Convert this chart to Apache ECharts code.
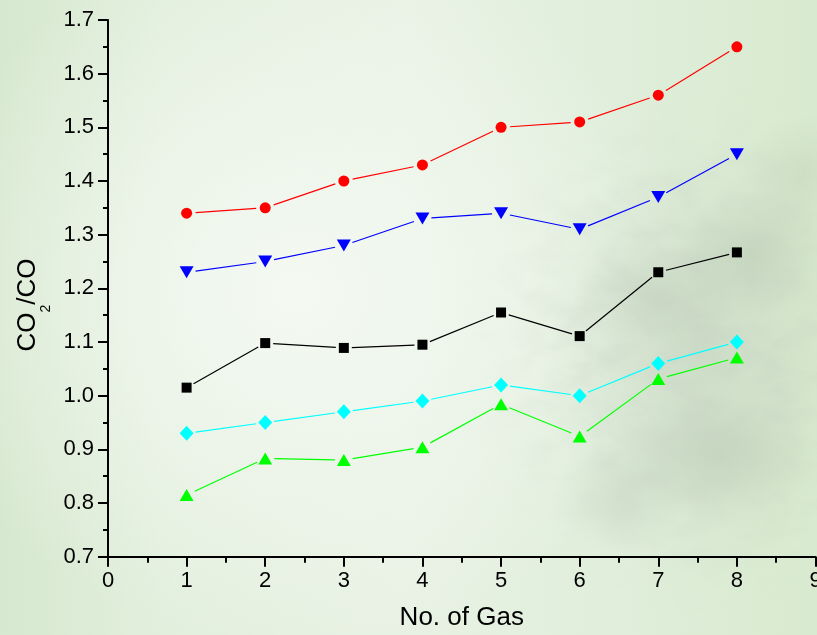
<!DOCTYPE html>
<html>
<head>
<meta charset="utf-8">
<title>CO2/CO ratio by gas number</title>
<script src="https://cdn.jsdelivr.net/npm/echarts@6/dist/echarts.min.js"></script>
<style>
  html, body { margin: 0; padding: 0; }
  #wrap {
    position: relative;
    width: 817px;
    height: 635px;
    overflow: hidden;
    background:
      radial-gradient(ellipse 9% 10% at 92% 40%, rgba(170,186,166,0.35), rgba(170,186,166,0) 100%),
      radial-gradient(ellipse 10% 9% at 80% 47%, rgba(176,192,172,0.30), rgba(176,192,172,0) 100%),
      radial-gradient(ellipse 12% 10% at 88% 72%, rgba(172,188,168,0.35), rgba(172,188,168,0) 100%),
      radial-gradient(ellipse 8% 9% at 76% 78%, rgba(180,196,176,0.28), rgba(180,196,176,0) 100%),
      radial-gradient(ellipse 20% 36% at 86% 56%, rgba(186,201,182,0.45), rgba(186,201,182,0) 100%),
      radial-gradient(ellipse 8% 10% at 98% 28%, rgba(180,195,175,0.30), rgba(180,195,175,0) 100%),
      radial-gradient(ellipse 48% 56% at 36% 46%, rgba(244,249,242,1), rgba(244,249,242,0) 100%),
      linear-gradient(to right, #d6e8cf 0%, #e2efdd 20%, #e8f2e4 50%, #e0eedb 75%, #d8eacf 100%);
  }
  /* mottled cloud texture on the right-hand side of the backdrop */
  #wrap::before {
    content: '';
    position: absolute;
    left: 0; top: 0; width: 817px; height: 635px;
    background-image: url("data:image/svg+xml;utf8,<svg xmlns='http://www.w3.org/2000/svg' width='817' height='635'><filter id='n'><feTurbulence type='fractalNoise' baseFrequency='0.025 0.04' numOctaves='4' seed='7'/><feColorMatrix values='0 0 0 0 0.55 0 0 0 0 0.62 0 0 0 0 0.53 1.6 0 0 0 -0.62'/></filter><rect width='817' height='635' filter='url(%23n)'/></svg>");
    -webkit-mask-image: radial-gradient(ellipse 30% 42% at 86% 55%, #000 0%, rgba(0,0,0,0.6) 55%, transparent 100%);
    mask-image: radial-gradient(ellipse 30% 42% at 86% 55%, #000 0%, rgba(0,0,0,0.6) 55%, transparent 100%);
    opacity: 0.55;
  }
  #chart { position: absolute; left: 0; top: 0; width: 817px; height: 635px; }
</style>
</head>
<body>
<div id="wrap"><div id="chart"></div></div>
<script>
// Gas sample numbers along the x axis
const gasNo = [1, 2, 3, 4, 5, 6, 7, 8];

// CO2/CO ratios, one array per data set
const redValues   = [1.34, 1.35, 1.40, 1.43, 1.50, 1.51, 1.56, 1.65];
const blueValues  = [1.23, 1.25, 1.28, 1.33, 1.34, 1.31, 1.37, 1.45];
const blackValues = [1.015, 1.098, 1.089, 1.095, 1.155, 1.111, 1.23, 1.267];
const cyanValues  = [0.93, 0.95, 0.97, 0.99, 1.02, 1.00, 1.06, 1.10];
const greenValues = [0.815, 0.883, 0.880, 0.904, 0.984, 0.924, 1.031, 1.071];

// Axis tick labels
const xTickLabels = ['0', '1', '2', '3', '4', '5', '6', '7', '8', '9'];
const yTickLabels = ['0.7', '0.8', '0.9', '1.0', '1.1', '1.2', '1.3', '1.4', '1.5', '1.6', '1.7'];

// Axis titles (the y title is split so the "2" can be set as a subscript)
const xTitle = 'No. of Gas';
const yTitleParts = ['CO', '2', '/CO'];

const FONT = '"Liberation Sans", Arial, sans-serif';
const TITLE_SIZE = 26;
const SUB_SIZE = 14;

// Connecting line drawn as separate segments that stop short of each marker
function segmentSeries(values, color, gap) {
  const segs = [];
  for (let i = 0; i < values.length - 1; i++) {
    segs.push([gasNo[i], values[i], gasNo[i + 1], values[i + 1]]);
  }
  return {
    type: 'custom',
    coordinateSystem: 'cartesian2d',
    encode: { x: [0, 2], y: [1, 3] },
    data: segs,
    silent: true,
    z: 2,
    renderItem(params, api) {
      const a = api.coord([api.value(0), api.value(1)]);
      const b = api.coord([api.value(2), api.value(3)]);
      const dx = b[0] - a[0], dy = b[1] - a[1];
      const len = Math.hypot(dx, dy);
      const ux = dx / len, uy = dy / len;
      return {
        type: 'line',
        shape: {
          x1: a[0] + ux * gap, y1: a[1] + uy * gap,
          x2: b[0] - ux * gap, y2: b[1] - uy * gap
        },
        style: { stroke: color, lineWidth: 1.2 }
      };
    }
  };
}

function markerSeries(values, color, symbol, size, rotate) {
  return {
    type: 'scatter',
    data: gasNo.map((x, i) => [x, values[i]]),
    symbol: symbol,
    symbolSize: size,
    symbolRotate: rotate || 0,
    itemStyle: { color: color, opacity: 1 },
    z: 3,
    silent: true
  };
}

// Widths of the y-title pieces, used to lay them out one after another
const measureCtx = document.createElement('canvas').getContext('2d');
function textWidth(str, size) {
  measureCtx.font = size + 'px ' + FONT;
  return measureCtx.measureText(str).width;
}
const wCO = textWidth(yTitleParts[0], TITLE_SIZE);
const wSub = textWidth(yTitleParts[1], SUB_SIZE);
const yTitleLen = wCO + wSub + textWidth(yTitleParts[2], TITLE_SIZE);

const chart = echarts.init(document.getElementById('chart'), null, { renderer: 'canvas' });

const titleCenterY = 305;

chart.setOption({
  backgroundColor: 'transparent',
  animation: false,
  grid: {
    left: 108, right: 1.5, top: 20, bottom: 78.3,
    containLabel: false,
    outerBoundsMode: 'none'
  },
  xAxis: {
    type: 'value',
    min: 0, max: 9, interval: 1,
    name: xTitle,
    nameLocation: 'middle',
    nameGap: 48,
    nameTextStyle: { fontFamily: FONT, fontSize: TITLE_SIZE, color: '#000', verticalAlign: 'top' },
    axisLine: { show: true, onZero: false, lineStyle: { color: '#000', width: 2 } },
    axisTick: { show: true, inside: false, length: 10, lineStyle: { color: '#000', width: 2 } },
    minorTick: { show: true, splitNumber: 2, length: 6, lineStyle: { color: '#000', width: 2 } },
    splitLine: { show: false },
    axisLabel: {
      fontFamily: FONT, fontSize: 22, color: '#000', margin: 13,
      formatter: v => xTickLabels[Math.round(v)]
    }
  },
  yAxis: {
    type: 'value',
    min: 0.7, max: 1.7, interval: 0.1,
    axisLine: { show: true, onZero: false, lineStyle: { color: '#000', width: 2 } },
    axisTick: { show: true, inside: false, length: 10, lineStyle: { color: '#000', width: 2 } },
    minorTick: { show: true, splitNumber: 2, length: 5, lineStyle: { color: '#000', width: 2 } },
    splitLine: { show: false },
    axisLabel: {
      fontFamily: FONT, fontSize: 22, color: '#000', margin: 14,
      formatter: v => yTickLabels[Math.round((v - 0.7) * 10)]
    }
  },
  graphic: [{
    type: 'group',
    x: 38,
    y: titleCenterY + yTitleLen / 2,
    rotation: Math.PI / 2,
    children: [
      {
        type: 'text', x: 0, y: -10,
        style: { text: yTitleParts[0], font: TITLE_SIZE + 'px ' + FONT, fill: '#000', align: 'left', verticalAlign: 'middle' }
      },
      {
        type: 'text', x: wCO, y: 8,
        style: { text: yTitleParts[1], font: SUB_SIZE + 'px ' + FONT, fill: '#000', align: 'left', verticalAlign: 'middle' }
      },
      {
        type: 'text', x: wCO + wSub, y: -10,
        style: { text: yTitleParts[2], font: TITLE_SIZE + 'px ' + FONT, fill: '#000', align: 'left', verticalAlign: 'middle' }
      }
    ]
  }],
  series: [
    segmentSeries(redValues, '#ff0000', 9),
    segmentSeries(blueValues, '#0000ff', 9),
    segmentSeries(blackValues, '#000000', 8),
    segmentSeries(cyanValues, '#00ffff', 9),
    segmentSeries(greenValues, '#00ff00', 9),
    markerSeries(redValues, '#ff0000', 'circle', 11),
    markerSeries(blueValues, '#0000ff', 'triangle', [14, 12], 180),
    markerSeries(blackValues, '#000000', 'rect', 10),
    markerSeries(cyanValues, '#00ffff', 'diamond', [14, 15]),
    markerSeries(greenValues, '#00ff00', 'triangle', [14, 12])
  ]
});
</script>
</body>
</html>
